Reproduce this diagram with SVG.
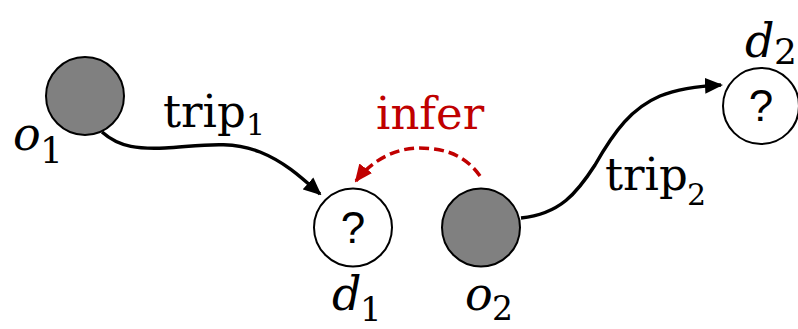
<svg xmlns="http://www.w3.org/2000/svg" width="798" height="329" viewBox="0 0 798 329">
<style>
.obs{fill:#808080;stroke:#000;stroke-width:2}
.dst{fill:#fff;stroke:#000;stroke-width:2}
.q{font-family:"Liberation Sans",Arial,sans-serif;font-size:44px;fill:#000}
.rm{font-family:"DejaVu Serif","Liberation Serif",serif;font-size:45px;fill:#000}
.it{font-family:"DejaVu Serif","Liberation Serif",serif;font-style:italic;font-size:46px;fill:#000}
.sub{font-family:"DejaVu Serif","Liberation Serif",serif;fill:#000}
.edge{fill:none;stroke:#000;stroke-width:3.5}
.inf{fill:none;stroke:#C00000;stroke-width:3.5;stroke-dasharray:10 5}
</style>
<defs>
<marker id="ah" markerWidth="18" markerHeight="18" viewBox="0 0 18 18" refX="16" refY="9" orient="auto" markerUnits="userSpaceOnUse"><path d="M0,1 L18,9 L0,17 Z" fill="#000"/></marker>
<marker id="ahr" markerWidth="18" markerHeight="18" viewBox="0 0 18 18" refX="16" refY="9" orient="auto" markerUnits="userSpaceOnUse"><path d="M0,1 L18,9 L0,17 Z" fill="#C00000"/></marker>
</defs>
<g id="connectors">
<path class="edge" d="M102,132 C120,148 140,149 165,148 C200,146 230,140 260,152 C285,162 302,178 320,194" marker-end="url(#ah)"/>
<path class="edge" d="M521,218 C560,214 577,193 595,165 C615,130 632,108 660,96 C680,88 700,86 721,85" marker-end="url(#ah)"/>
<path class="inf" d="M480,176 C466,156 446,148 419,148 C396,148 372,160 356,181" marker-end="url(#ahr)"/>
<text x="163" y="127" class="rm">trip<tspan x="246" y="135" font-size="30">1</tspan></text>
<text x="605" y="190" class="rm">trip<tspan x="687" y="205" font-size="30">2</tspan></text>
<text x="376" y="129" class="rm" style="fill:#C00000">infer</text>
</g>
<g id="o1">
<circle class="obs" cx="85" cy="96" r="39"/>
<text x="13" y="150" class="it">o</text><text x="40" y="162.5" class="sub" font-size="36">1</text>
</g>
<g id="d1">
<circle class="dst" cx="353" cy="227.5" r="39"/>
<text x="353" y="243" class="q" text-anchor="middle">?</text>
<text x="332" y="310" class="it">d</text><text x="360" y="321" class="sub" font-size="34">1</text>
</g>
<g id="o2">
<circle class="obs" cx="481" cy="227.5" r="39"/>
<text x="465" y="310" class="it">o</text><text x="492" y="320" class="sub" font-size="33">2</text>
</g>
<g id="d2">
<circle class="dst" cx="761" cy="106" r="38"/>
<text x="761" y="121" class="q" text-anchor="middle">?</text>
<text x="745" y="56.5" class="it">d</text><text x="774" y="63.5" class="sub" font-size="36">2</text>
</g>
</svg>
